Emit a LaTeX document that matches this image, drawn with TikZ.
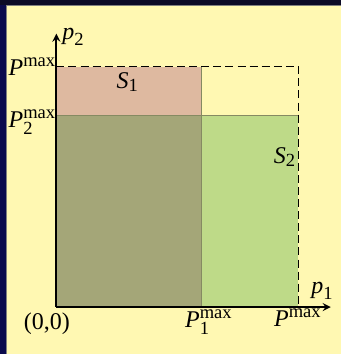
\documentclass[tikz,border=0pt]{standalone}
\usepackage{amsmath}
\usepackage{fontspec}
\setmainfont{Liberation Serif}
\usetikzlibrary{arrows.meta}
\DeclareMathSizes{14.1}{14.1}{10.9}{8}
\definecolor{slideyellow}{HTML}{FFF8B2}
\definecolor{slidenavy}{HTML}{0A0A4C}
\definecolor{slidetop}{HTML}{0B0A26}
\definecolor{regionone}{HTML}{DEB9A0}
\definecolor{regiontwo}{HTML}{BEDA88}
\definecolor{overlap}{HTML}{A4A678}
\definecolor{edgeline}{HTML}{858A62}

\begin{document}
\begin{tikzpicture}[x=0.5cm,y=0.5cm,>=stealth,font=\fontsize{14.1}{17}\selectfont]
  \useasboundingbox (-2.33,-1.94) rectangle (11.76,12.69);
  \fill[slideyellow] (-2.33,-1.94) rectangle (11.76,12.69);
  \fill[slidenavy] (-2.33,-1.94) rectangle (-2.08,12.69);
  \fill[slidetop] (-2.33,12.48) rectangle (11.76,12.69);
  \draw[gray,line width=0.5pt] (-2.06,-1.94)--(-2.06,12.46)--(11.76,12.46);
  % feasible regions
  \fill[regionone] (0,0) rectangle (6,9.93);
  \fill[regiontwo] (0,0) rectangle (10,7.93);
  \fill[overlap] (0,0) rectangle (6,7.93);
  \draw[edgeline,line width=0.7pt] (6,0)--(6,9.93);
  \draw[edgeline,line width=0.7pt] (0,7.93)--(10,7.93);
  \draw[line width=0.8pt,dash pattern=on 4.7pt off 2.4pt] (0,9.93)--(10,9.93)--(10,0);
  % axes
  \draw[->,line width=1.1pt] (0,0)--(11.34,0);
  \draw[->,line width=1.1pt] (0,0)--(0,11.3);
  \node (pone) at (11.0,0.66) {$\textit{p}_{\text{1}}$};
  \node (ptwo) at (0.7,11.15) {$\textit{p}_{\text{2}}$};
  \node (origin) at (-0.39,-0.7) {(0,0)};
  \node[anchor=east,inner sep=0pt] (pmaxy) at (0,9.92) {$\textit{P}^{\text{max}}$};
  \node[anchor=east,inner sep=0pt] (ptwomax) at (0,7.64) {$\textit{P}^{\text{max}}_{\text{2}}$};
  \node (ponemax) at (6.3,-0.62) {$\textit{P}^{\text{max}}_{\text{1}}$};
  \node (pmaxx) at (9.98,-0.45) {$\textit{P}^{\text{max}}$};
  \node (sone) at (2.95,9.3) {$\textit{S}_{\text{1}}$};
  \node (stwo) at (9.45,6.2) {$\textit{S}_{\text{2}}$};
\end{tikzpicture}
\end{document}
